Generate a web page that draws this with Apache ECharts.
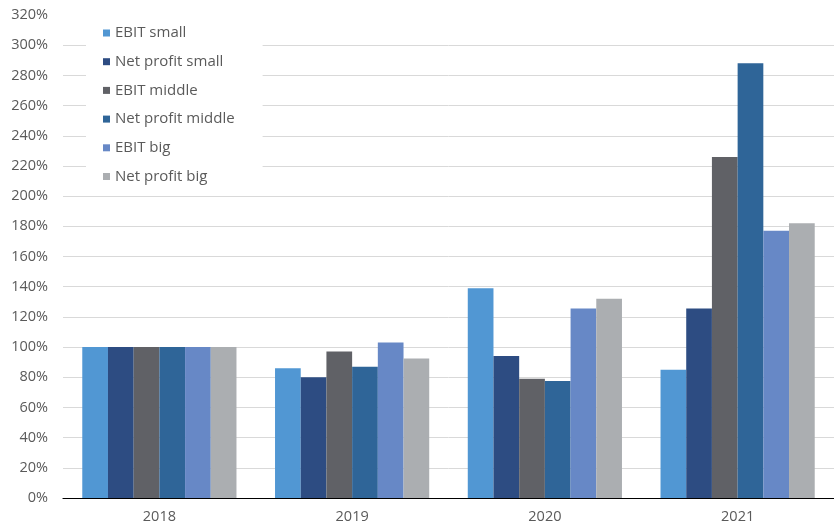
<!DOCTYPE html>
<html>
<head>
<meta charset="utf-8">
<script src="https://cdn.jsdelivr.net/npm/echarts@6/dist/echarts.min.js"></script>
<style>
  html, body { margin: 0; padding: 0; background: #fff; }
  #chart { width: 834px; height: 528px; }
</style>
</head>
<body>
<div id="chart"></div>
<script>
// Years on the category axis
const years = ['2018', '2019', '2020', '2021'];

// Index values (% of 2018) per company size
const ebitSmall = [100, 86, 139, 85];
const netSmall = [100, 80, 94, 125.5];
const ebitMiddle = [100, 97, 79, 226];
const netMiddle = [100, 87, 77.5, 288];
const ebitBig = [100, 103, 125.5, 177];
const netBig = [100, 92.5, 132, 182];

const seriesNames = ['EBIT small', 'Net profit small', 'EBIT middle', 'Net profit middle', 'EBIT big', 'Net profit big'];
const seriesData = [ebitSmall, netSmall, ebitMiddle, netMiddle, ebitBig, netBig];
const seriesColors = ['#5197d3', '#2d4c82', '#606166', '#2f6598', '#6788c6', '#abaeb1'];

// Value axis ticks
const yMin = 0, yMax = 320, yStep = 20;

// Grid lines: one colour per tick, the topmost one left out
const gridColors = [];
for (let v = yMin; v <= yMax; v += yStep) {
  gridColors.push(v === yMax ? 'rgba(0,0,0,0)' : '#d9d9d9');
}

const fontFamily = '"Open Sans"';
const chart = echarts.init(document.getElementById('chart'), null, { renderer: 'canvas' });

chart.setOption({
  animation: false,
  backgroundColor: '#ffffff',
  grid: { left: 63, right: 0, top: 15, bottom: 30, containLabel: false },
  legend: {
    orient: 'vertical',
    left: 86,
    top: 21,
    itemWidth: 7,
    itemHeight: 7,
    itemGap: 12.7,
    icon: 'rect',
    backgroundColor: '#ffffff',
    padding: [4, 28, 6, 17],
    textStyle: { color: '#5a5a5a', fontSize: 15, fontFamily: fontFamily, padding: [0, 0, 0, 0], lineHeight: 16 },
    data: seriesNames
  },
  xAxis: {
    type: 'category',
    data: years,
    axisLine: { show: true, lineStyle: { color: '#000000', width: 1.2 } },
    axisTick: { show: false },
    axisLabel: { color: '#5a5a5a', fontSize: 14.5, fontFamily: fontFamily, margin: 11 }
  },
  yAxis: {
    type: 'value',
    min: yMin,
    max: yMax,
    interval: yStep,
    axisLine: { show: false },
    axisTick: { show: false },
    axisLabel: {
      color: '#5a5a5a', fontSize: 14.5, fontFamily: fontFamily, margin: 15,
      formatter: v => v + '%'
    },
    splitLine: { show: true, lineStyle: { color: gridColors, width: 1 } }
  },
  series: seriesNames.map((name, i) => ({
    name: name,
    type: 'bar',
    data: seriesData[i],
    barGap: '0%',
    barCategoryGap: '20%',
    itemStyle: { color: seriesColors[i] },
    z: 2
  }))
});
</script>
</body>
</html>
